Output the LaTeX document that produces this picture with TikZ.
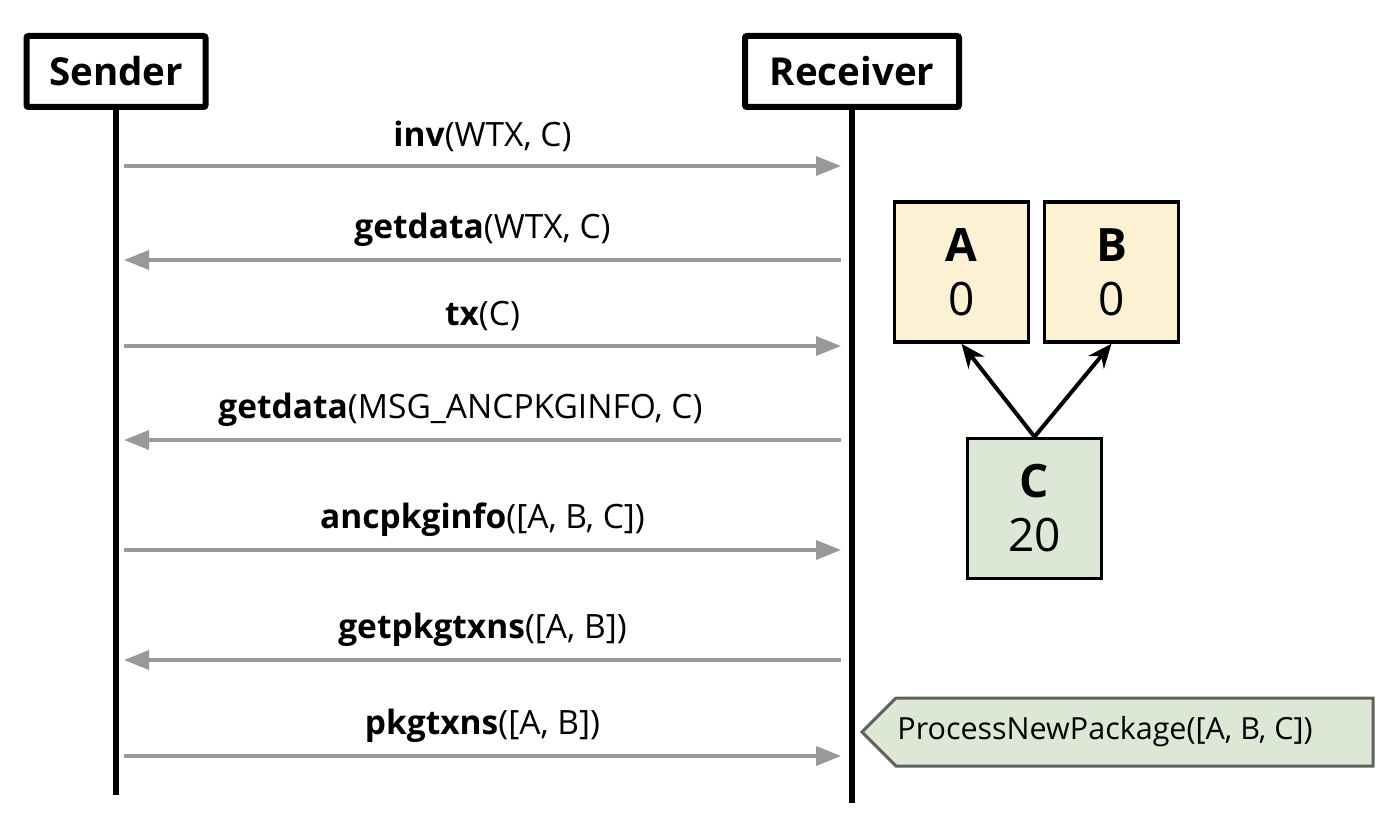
\documentclass[tikz,border=0pt]{standalone}
\usepackage{fontspec}
\setmainfont{Open Sans}
\usetikzlibrary{arrows.meta}
\definecolor{pkgyellow}{HTML}{FCF1D3}
\definecolor{pkggreen}{HTML}{DCE8D5}
\definecolor{msggray}{HTML}{999999}
\definecolor{notegray}{HTML}{606060}

\begin{document}
\begin{tikzpicture}[x=1pt, y=-1pt,
    actor/.style={draw, line width=6pt, rounded corners=2pt, minimum height=71pt, inner sep=0pt, font=\fontsize{38.5}{42}\selectfont\bfseries},
    life/.style={line width=6.5pt},
    msg/.style={draw=msggray, line width=3.5pt, -{Triangle[length=25pt, width=19pt]}},
    lbl/.style={midway, yshift=30pt, font=\fontsize{33.5}{38}\selectfont},
    pkg/.style={draw, line width=3.5pt, minimum width=134pt, minimum height=140pt, align=center, inner sep=0pt, font=\fontsize{46}{54}\selectfont},
    dep/.style={line width=4pt, -{Stealth[length=24pt, width=20pt]}},
    note/.style={draw=notegray, fill=pkggreen, line width=3pt}]
    \useasboundingbox (0,0) rectangle (1388,826);
    \node[actor, minimum width=179pt] (snd) at (116,71.5) {Sender};
    \node[actor, minimum width=214pt] (rcv) at (852,71.5) {Receiver};
    \coordinate (sndend) at (116,795);
    \coordinate (rcvend) at (852,803);
    \draw[life] (snd.south) -- (sndend);
    \draw[life] (rcv.south) -- (rcvend);
    \foreach \i/\y in {1/166,2/260,3/346,4/440,5/550,6/660,7/756} {
        \coordinate (s\i) at (124,\y);
        \coordinate (r\i) at (841,\y);
    }
    \draw[msg] (s1) -- node[lbl] {\textbf{inv}(WTX, C)} (r1);
    \draw[msg] (r2) -- node[lbl] {\textbf{getdata}(WTX, C)} (s2);
    \draw[msg] (s3) -- node[lbl] {\textbf{tx}(C)} (r3);
    \draw[msg] (r4) -- node[lbl, xshift=-22pt] {\textbf{getdata}(MSG\_ANCPKGINFO, C)} (s4);
    \draw[msg] (s5) -- node[lbl] {\textbf{ancpkginfo}([A, B, C])} (r5);
    \draw[msg] (r6) -- node[lbl] {\textbf{getpkgtxns}([A, B])} (s6);
    \draw[msg] (s7) -- node[lbl] {\textbf{pkgtxns}([A, B])} (r7);
    % package C and its parents
    \node[pkg, fill=pkgyellow] (A) at (961.5,272) {\textbf{A}\\0};
    \node[pkg, fill=pkgyellow] (B) at (1111.5,272) {\textbf{B}\\0};
    \node[pkg, fill=pkggreen] (C) at (1034.5,508.5) {\textbf{C}\\20};
    \draw[dep] (C.north) -- (A.south);
    \draw[dep] (C.north) -- (B.south);
    \draw[note] (862,732) -- (896,698) -- (1373,698) -- (1373,766) -- (896,766) -- cycle;
    \node[font=\fontsize{30.5}{34}\selectfont] (pnp) at (1105,732) {ProcessNewPackage([A, B, C])};
\end{tikzpicture}
\end{document}
